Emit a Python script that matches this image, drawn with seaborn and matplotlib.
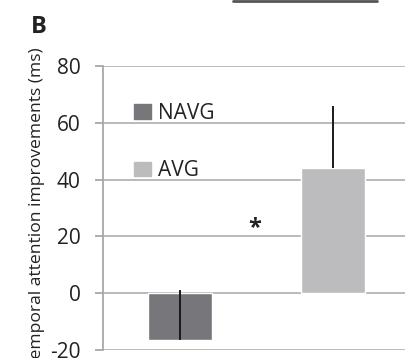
import matplotlib
matplotlib.use("Agg")
import matplotlib.pyplot as plt
import seaborn as sns
import pandas as pd

# data
groups = ["NAVG", "AVG"]
means = [-16.5, 44.0]
errors_up = [17.5, 22.0]
colors = ["#77777b", "#bcbcbe"]
yticks = [-20, 0, 20, 40, 60, 80]

sns.set_style("white")
plt.rcParams["font.family"] = ["Open Sans", "DejaVu Sans"]
plt.rcParams["axes.unicode_minus"] = False

df = pd.DataFrame({"group": groups, "mean": means})

fig = plt.figure(figsize=(4.05, 3.58), dpi=100)
ax = fig.add_axes([103 / 405, 8 / 358, (410 - 103) / 405, (350 - 66) / 358])

sns.barplot(data=df, x="group", y="mean", hue="group", palette=colors,
            width=0.42, errorbar=None, legend=False, ax=ax, zorder=3)

# plus-only error bars, as in the original
ax.errorbar([0, 1], means, yerr=[[0, 0], errors_up], fmt="none",
            ecolor="#1a1a1a", elinewidth=1.4, capsize=0, zorder=4)

ax.set_xlim(-0.507, 1.507)
ax.set_ylim(-20, 80)
ax.set_yticks(yticks)
ax.yaxis.grid(True, color="#b4b4b4", lw=1.3, zorder=0)
ax.set_xticks([])
ax.set_xlabel("")
for s in ["top", "right", "bottom"]:
    ax.spines[s].set_visible(False)
ax.spines["left"].set_color("#a8a8a8")
ax.spines["left"].set_linewidth(1.3)
ax.tick_params(axis="y", left=True, length=6, width=1.3, color="#a8a8a8",
               labelsize=15, pad=10, labelcolor="#222222")
ax.set_ylabel("Temporal attention improvements (ms)", fontsize=12.6,
              color="#222222")
ax.yaxis.set_label_coords(-0.19, 0.5)

# legend with square swatches
handles = [plt.Rectangle((0, 0), 1, 1, color=c) for c in colors]
ax.legend(handles, groups, loc="upper left", bbox_to_anchor=(0.06, 0.915),
          frameon=False, fontsize=15, handlelength=0.8, handleheight=0.7,
          handletextpad=0.35, labelspacing=1.75, labelcolor="#222222",
          borderaxespad=0.2)

ax.text(0.49, 23, "*", ha="center", va="center", fontsize=17,
        fontweight="bold", color="#222222")

fig.text(31 / 405, 1 - 33 / 358, "B", fontsize=17, fontweight="bold",
         color="#222222", va="baseline")
fig.add_artist(plt.Line2D([233 / 405, 377 / 405], [1 - 1 / 358, 1 - 1 / 358],
                          transform=fig.transFigure, color="#555555", lw=2))

fig.savefig("out.png", dpi=100)
